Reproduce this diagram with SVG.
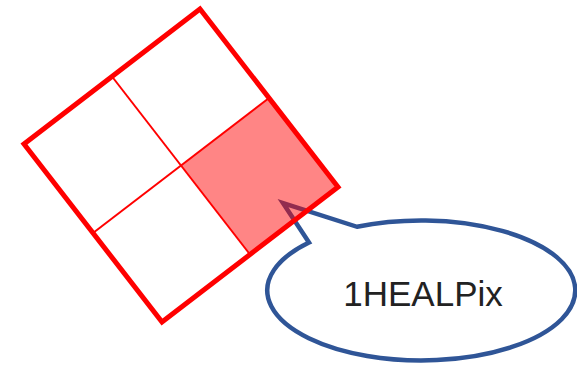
<svg xmlns="http://www.w3.org/2000/svg" width="577" height="366" viewBox="0 0 577 366">
  <style>
    .edge { fill: none; stroke: #FF0000; stroke-width: 5; stroke-linejoin: miter; }
    .grid { fill: none; stroke: #FF0000; stroke-width: 2; }
    .shade { fill: #FF0000; fill-opacity: 0.48; stroke: none; }
    .bubble { fill: #FFFFFF; stroke: #2F5597; stroke-width: 4.5; stroke-linejoin: miter; }
    .label { font-family: "Liberation Sans", Arial, sans-serif; font-size: 35px; fill: #222222; text-anchor: middle; }
  </style>
  <g id="callout">
    <path class="bubble" d="M 309 242.5 L 283 203 L 357 226.8 A 154 70 0 1 1 309 242.5 Z"/>
    <text class="label" x="423" y="306">1HEALPix</text>
  </g>
  <g id="pixel">
    <polygon class="shade" points="181,165.5 269,98 338,187 250,254.5"/>
    <line class="grid" x1="112" y1="76.5" x2="250" y2="254.5"/>
    <line class="grid" x1="93" y1="233" x2="269" y2="98"/>
    <polygon class="edge" points="200,9 338,187 162,322 24,144"/>
  </g>
</svg>
